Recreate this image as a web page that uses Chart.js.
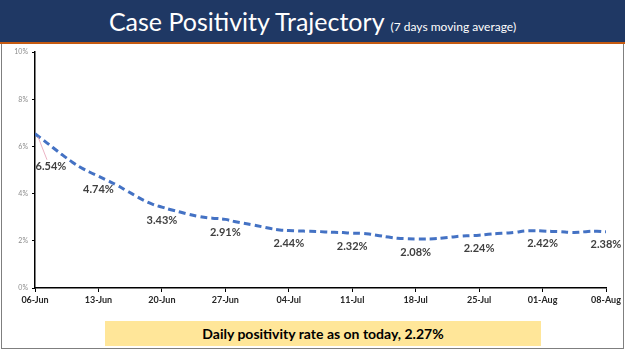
<!DOCTYPE html>
<html>
<head>
<meta charset="utf-8">
<script src="https://cdn.jsdelivr.net/npm/chart.js@4/dist/chart.umd.min.js"></script>
<style>
  html, body { margin: 0; padding: 0; background: #fff; }
  body { width: 625px; height: 351px; position: relative; overflow: hidden; font-family: Lato, 'Open Sans', sans-serif; }
  #banner { position: absolute; left: 0; top: 0; width: 625px; height: 42px; background: #1F3864;
    border-bottom: 2px solid #C55A11; color: #fff; text-align: center; white-space: nowrap; }
  #banner .main { font-size: 25px; line-height: 42px; }
  #banner .sub { font-size: 12px; margin-left: 6px; }
  #frame { position: absolute; left: 1px; top: 44px; width: 621px; height: 304px; border: 1px solid #7f7f7f; border-top: none; }
  #wrap { position: absolute; left: 0; top: 44px; width: 625px; height: 272px; }
  #note { position: absolute; left: 105px; top: 321px; width: 436px; height: 25px; background: #FFE699;
    color: #000; font-size: 14px; font-weight: bold; line-height: 25px; text-align: center; }
</style>
</head>
<body>
<div id="banner"><span class="main">Case Positivity Trajectory</span><span class="sub">(7 days moving average)</span></div>
<div id="frame"></div>
<div id="wrap"><canvas id="chart" width="625" height="272"></canvas></div>
<div id="note">Daily positivity rate as on today, 2.27%</div>
<script>
// ── Data ──
var tickLabels = ['06-Jun','13-Jun','20-Jun','27-Jun','04-Jul','11-Jul','18-Jul','25-Jul','01-Aug','08-Aug'];
// daily 7-day moving average (%), 06-Jun .. 08-Aug
var positivity = [
  6.54, 6.25, 5.95, 5.65, 5.37, 5.12, 4.92,
  4.74, 4.56, 4.37, 4.15, 3.93, 3.72, 3.55,
  3.43, 3.32, 3.22, 3.12, 3.04, 2.98, 2.95,
  2.91, 2.82, 2.75, 2.68, 2.60, 2.52, 2.46,
  2.44, 2.42, 2.41, 2.40, 2.38, 2.36, 2.35,
  2.32, 2.32, 2.28, 2.22, 2.16, 2.11, 2.09,
  2.08, 2.08, 2.09, 2.12, 2.16, 2.20, 2.22,
  2.24, 2.28, 2.31, 2.33, 2.36, 2.42, 2.43,
  2.42, 2.40, 2.39, 2.36, 2.36, 2.40, 2.41,
  2.38
];
var yTicks = [0, 2, 4, 6, 8, 10];

var points = positivity.map(function(v, i) { return { x: i, y: v }; });

// ── Weekly value labels ──
var weeklyLabels = {
  id: 'weeklyLabels',
  afterDatasetsDraw: function(chart) {
    var ctx = chart.ctx, xs = chart.scales.x, ys = chart.scales.y;
    ctx.save();
    ctx.font = 'bold 11px Lato, sans-serif';
    ctx.fillStyle = '#404040';
    ctx.textAlign = 'center';
    ctx.textBaseline = 'middle';
    tickLabels.forEach(function(_, w) {
      var idx = w * 7;
      var px = xs.getPixelForValue(idx), py = ys.getPixelForValue(positivity[idx]);
      var lx = px, ly = py + 13;
      if (w === 0) {
        lx = px + 16; ly = py + 33;
        ctx.strokeStyle = '#E6A0B4';
        ctx.lineWidth = 0.8;
        ctx.beginPath();
        ctx.moveTo(px + 3, py + 3);
        ctx.lineTo(px + 12, ly - 7);
        ctx.stroke();
      }
      ctx.fillText(positivity[idx].toFixed(2) + '%', lx, ly);
    });
    ctx.restore();
  }
};

new Chart(document.getElementById('chart').getContext('2d'), {
  type: 'line',
  data: {
    datasets: [{
      data: points,
      borderColor: '#4472C4',
      borderWidth: 3,
      borderDash: [7, 4],
      tension: 0.4,
      pointRadius: 0,
      fill: false
    }]
  },
  options: {
    responsive: false,
    animation: false,
    layout: { padding: { top: 8, right: 19, left: 0, bottom: 0 } },
    plugins: { legend: { display: false }, tooltip: { enabled: false } },
    scales: {
      x: {
        type: 'linear', min: 0, max: 63,
        afterBuildTicks: function(s) { s.ticks = tickLabels.map(function(_, i) { return { value: i * 7 }; }); },
        afterFit: function(s) { s.height = 28; },
        grid: { display: true, drawOnChartArea: false, drawTicks: true, tickLength: 4, color: '#000' },
        border: { color: '#000', width: 1.5 },
        ticks: {
          color: '#262626', font: { family: 'Lato', size: 9, weight: 'bold' }, maxRotation: 0, autoSkip: false, padding: 3,
          callback: function(v) { return tickLabels[Math.round(v / 7)]; }
        }
      },
      y: {
        min: 0, max: 10,
        afterBuildTicks: function(s) { s.ticks = yTicks.map(function(v) { return { value: v }; }); },
        afterFit: function(s) { s.width = 35; },
        grid: { display: true, drawOnChartArea: false, drawTicks: true, tickLength: 3, color: '#000' },
        border: { color: '#000', width: 1.5 },
        ticks: {
          color: '#8c8c8c', font: { family: 'Lato', size: 7 }, padding: 4,
          callback: function(v) { return v + '%'; }
        }
      }
    }
  },
  plugins: [weeklyLabels]
});
</script>
</body>
</html>
